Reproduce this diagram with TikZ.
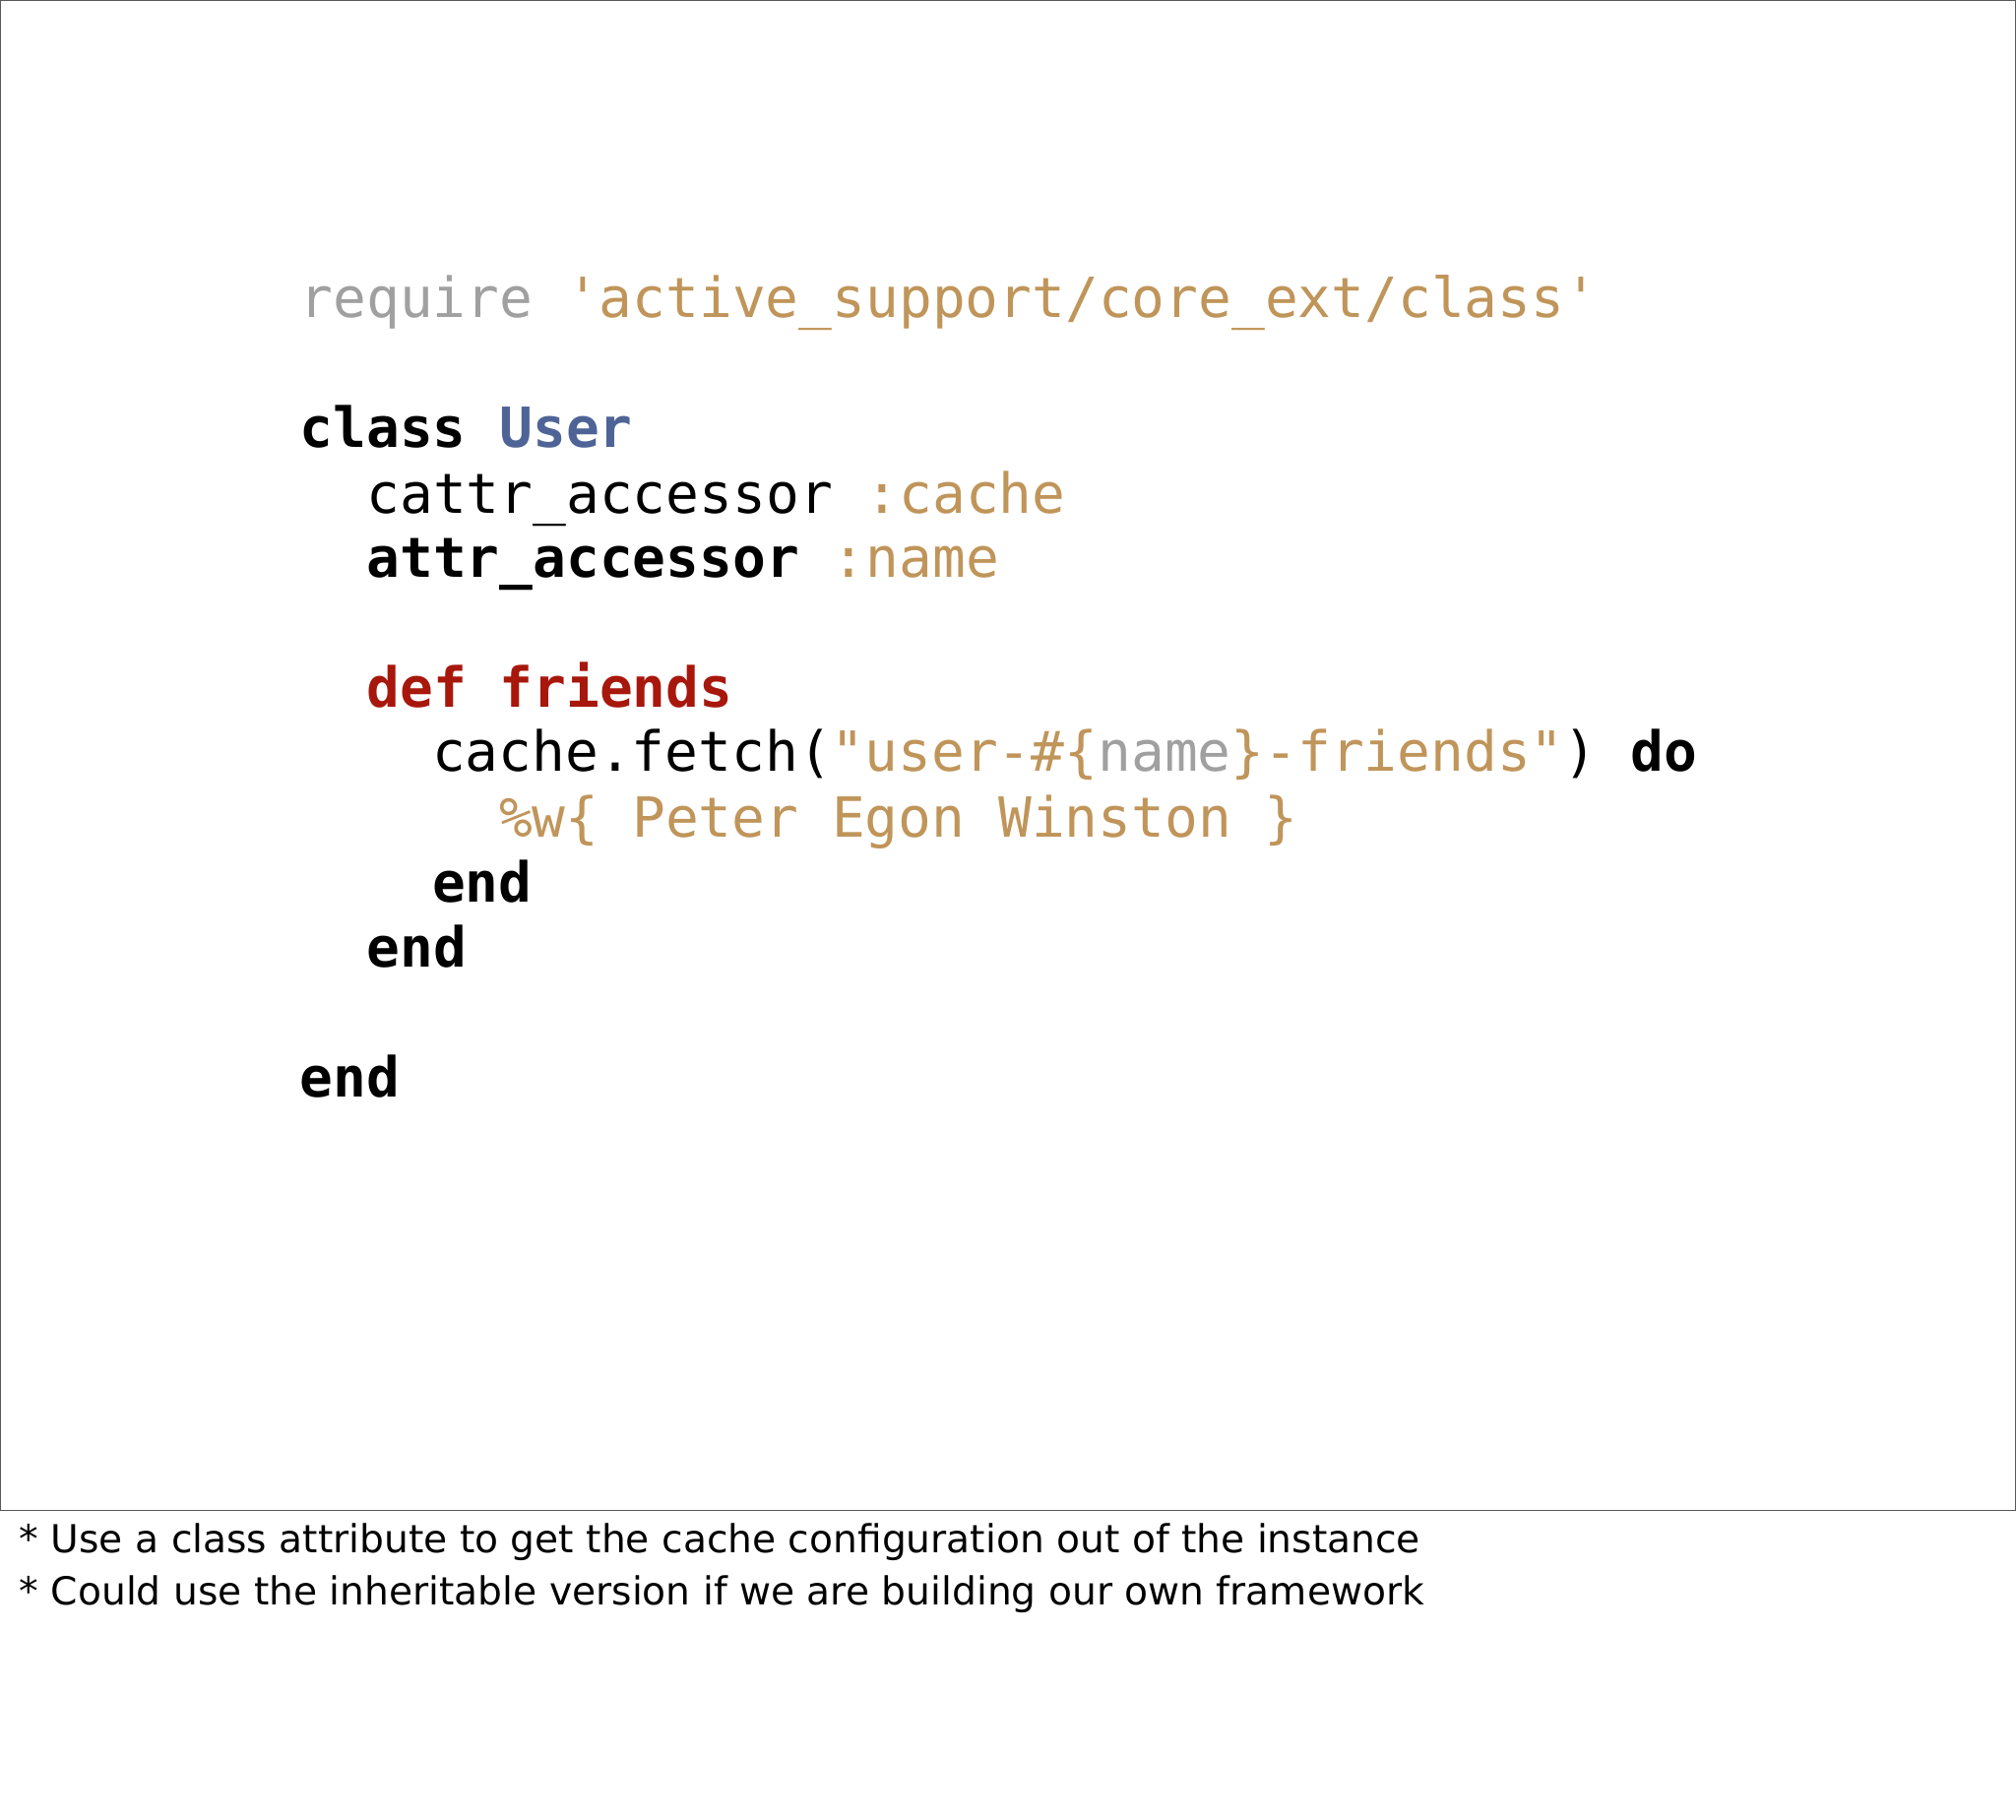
\documentclass[tikz,border=0pt]{standalone}
\usepackage{fontspec}
\setmainfont{DejaVu Sans}
\newfontfamily\code{DejaVu Sans Mono}
\definecolor{cgrey}{HTML}{A0A0A0}
\definecolor{cgold}{HTML}{C0955A}
\definecolor{cblue}{HTML}{4F6496}
\definecolor{cred}{HTML}{A8170C}
\begin{document}
\begin{tikzpicture}[x=1pt,y=-1pt,
  codeline/.style={anchor=base west,inner sep=0pt,font=\code\fontsize{43}{43}\selectfont},
  noteline/.style={anchor=base west,inner sep=0pt,font=\fontsize{30}{30}\selectfont}]
\useasboundingbox (0,0) rectangle (1568,1415);
\fill[white] (0,0) rectangle (1568,1415);
\draw[gray!70!black,line width=1pt] (0.5,0.5) rectangle (1567.5,1175);
\node[codeline] (l1) at (233,247) {\textcolor{cgrey}{require} \textcolor{cgold}{'active\_support/core\_ext/class'}};
\node[codeline] (l2) at (233,348) {\textbf{class} \textcolor{cblue}{\textbf{User}}};
\node[codeline] (l3) at (285,399) {cattr\_accessor \textcolor{cgold}{:cache}};
\node[codeline] (l4) at (285,449) {\textbf{attr\_accessor} \textcolor{cgold}{:name}};
\node[codeline] (l5) at (285,550) {\textcolor{cred}{\textbf{def friends}}};
\node[codeline] (l6) at (336,600) {cache.fetch(\textcolor{cgold}{"user-\#\{}\textcolor{cgrey}{name}\textcolor{cgold}{\}-friends"}) \textbf{do}};
\node[codeline] (l7) at (388,651) {\textcolor{cgold}{\%w\{ Peter Egon Winston \}}};
\node[codeline] (l8) at (336,702) {\textbf{end}};
\node[codeline] (l9) at (285,752) {\textbf{end}};
\node[codeline] (l10) at (233,853) {\textbf{end}};
\node[noteline] (n1) at (15,1208) {* Use a class attribute to get the cache configuration out of the instance};
\node[noteline] (n2) at (15,1248) {* Could use the inheritable version if we are building our own framework};
\end{tikzpicture}
\end{document}
